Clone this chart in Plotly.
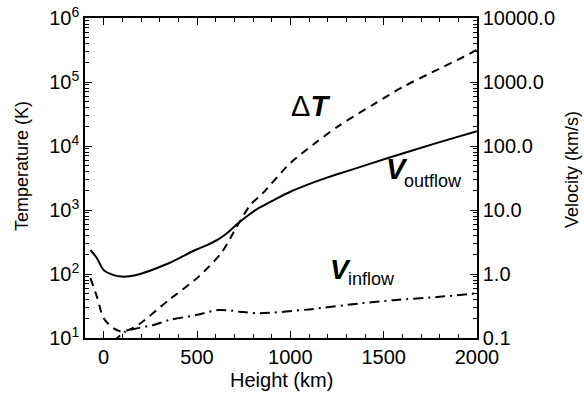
import plotly.graph_objects as go

# ---- data ----
dT_height = [-71, -36, 0, 54, 98, 170, 348, 509, 634, 710, 786, 850, 1000, 1143, 1268, 1455, 1607, 1800, 1929, 2000]
dT_temp = [86, 44, 20.4, 14.1, 12.6, 15, 39, 91, 220, 530, 1200, 1800, 5400, 11700, 21400, 46400, 85000, 162000, 248000, 320000]

vout_height = [-71, -35, 0, 50, 98, 170, 348, 491, 560, 616, 670, 723, 780, 830, 911, 1000, 1100, 1200, 1313, 1536, 1800, 2000]
vout_vel = [2.37, 1.75, 1.15, 0.97, 0.91, 0.955, 1.47, 2.37, 2.88, 3.5, 4.57, 6.3, 8.5, 10.7, 14.3, 19.3, 25.4, 32.4, 41.2, 66.8, 115, 170]

vin_height = [50, 116, 268, 348, 500, 616, 750, 830, 1100, 1375, 1554, 1800, 2000]
vin_vel = [0.085, 0.126, 0.16, 0.19, 0.23, 0.274, 0.255, 0.243, 0.28, 0.348, 0.39, 0.44, 0.50]

temp_tickvals = [1e1, 1e2, 1e3, 1e4, 1e5, 1e6]
temp_ticktext = ["10<sup>1</sup>", "10<sup>2</sup>", "10<sup>3</sup>", "10<sup>4</sup>", "10<sup>5</sup>", "10<sup>6</sup>"]
vel_tickvals = [0.1, 1, 10, 100, 1000, 10000]
vel_ticktext = ["0.1", "1.0", "10.0", "100.0", "1000.0", "10000.0"]
x_tickvals = [0, 500, 1000, 1500, 2000]

FONT = "Liberation Sans, Arial, sans-serif"
W, H = 584, 395
L, R, T, B = 85, 477, 18, 338  # plot frame in pixels


def minor_vals(lo_exp, hi_exp):
    out = []
    for e in range(lo_exp, hi_exp):
        for m in range(2, 10):
            out.append(m * 10 ** e)
    return out


def px(x):
    return (x - L) / (R - L)


def py(y):
    return (B - y) / (B - T)


fig = go.Figure()
fig.add_trace(go.Scatter(x=dT_height, y=dT_temp, mode="lines", line_shape="spline",
                         line=dict(color="black", width=2, dash="8px,6px", smoothing=0.8),
                         yaxis="y", showlegend=False, hoverinfo="skip"))
fig.add_trace(go.Scatter(x=vout_height, y=vout_vel, mode="lines", line_shape="spline",
                         line=dict(color="black", width=2, smoothing=0.8),
                         yaxis="y2", showlegend=False, hoverinfo="skip"))
fig.add_trace(go.Scatter(x=vin_height, y=vin_vel, mode="lines", line_shape="spline",
                         line=dict(color="black", width=2, dash="10px,5px,2px,5px", smoothing=0.8),
                         yaxis="y2", showlegend=False, hoverinfo="skip"))

axis_common = dict(showgrid=False, zeroline=False, showline=True, linecolor="black", linewidth=1.5,
                   ticks="inside", ticklen=7, tickwidth=1, tickcolor="black", automargin=False,
                   tickfont=dict(family=FONT, size=20, color="black"))

fig.update_layout(
    width=W, height=H,
    margin=dict(l=L, r=W - R, t=T, b=H - B),
    paper_bgcolor="white", plot_bgcolor="white",
    font=dict(family=FONT, color="black"),
    xaxis=dict(range=[-100, 2000], tickmode="array", tickvals=x_tickvals,
               mirror="ticks",
               minor=dict(ticks="inside", ticklen=4, tickcolor="black", dtick=100, tick0=0),
               **axis_common),
    yaxis=dict(type="log", range=[1, 6], tickmode="array", tickvals=temp_tickvals, ticktext=temp_ticktext,
               minor=dict(ticks="inside", ticklen=4, tickcolor="black", tickmode="array",
                          tickvals=minor_vals(1, 6)),
               **axis_common),
    yaxis2=dict(type="log", range=[-1, 4], overlaying="y", side="right", tickmode="array",
                tickvals=vel_tickvals, ticktext=vel_ticktext,
                minor=dict(ticks="inside", ticklen=4, tickcolor="black", tickmode="array",
                           tickvals=minor_vals(-1, 4)),
                **axis_common),
)

# axis titles
titles = [
    dict(x=281, y=380, text="Height (km)", angle=0, size=20),
    dict(x=22, y=166, text="Temperature (K)", angle=-90, size=18),
    dict(x=572, y=170, text="Velocity (km/s)", angle=-90, size=18),
]
for t in titles:
    fig.add_annotation(x=px(t["x"]), y=py(t["y"]), xref="paper", yref="paper",
                       text=t["text"], textangle=t["angle"], showarrow=False,
                       xanchor="center", yanchor="middle",
                       font=dict(family=FONT, size=t["size"], color="black"))

labels = [
    dict(x=290, y=106, text="Δ<b><i>T</i></b>", size=29),
    dict(x=385, y=169, text="<b><i>V</i></b>", size=29),
    dict(x=403, y=181, text="outflow", size=18),
    dict(x=329, y=269, text="<b><i>V</i></b>", size=28),
    dict(x=347, y=279, text="inflow", size=18),
]
for a in labels:
    fig.add_annotation(x=px(a["x"]), y=py(a["y"]), xref="paper", yref="paper",
                       text=a["text"], showarrow=False, xanchor="left", yanchor="middle",
                       font=dict(family=FONT, size=a["size"], color="black"),
                       borderpad=0)

fig.write_html("out.html", config={"displayModeBar": False},
               post_script="document.body.style.margin='0';document.body.style.overflow='hidden';")
